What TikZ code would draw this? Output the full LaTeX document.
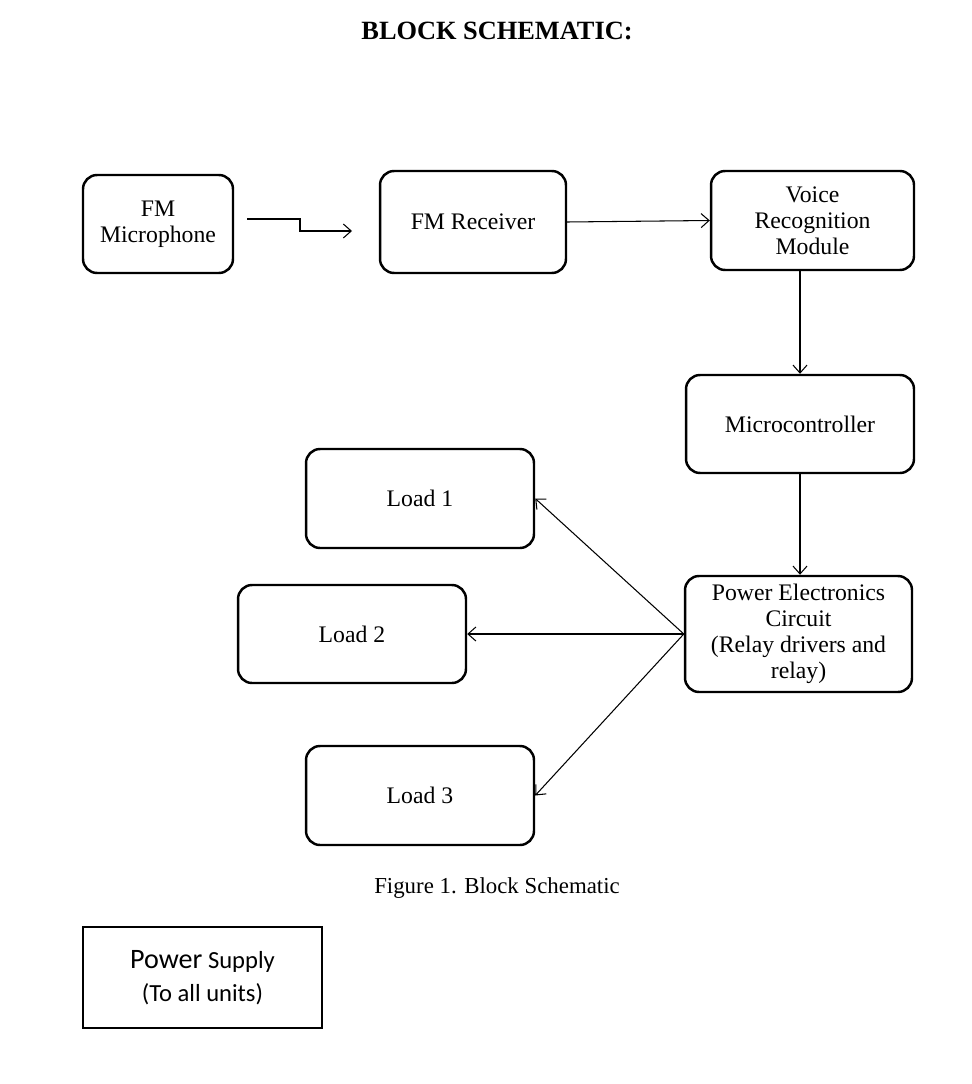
\documentclass[tikz,border=0pt]{standalone}
\usepackage{fontspec}
\setmainfont{Liberation Serif}
\newfontfamily\calfont{Carlito}
\usetikzlibrary{arrows.meta, positioning}

\begin{document}
\begin{tikzpicture}[x=0.02cm, y=-0.02cm,
    >={Straight Barb[length=4.5pt, width=8pt]},
    block/.style={draw, line width=1.4pt, rounded corners=8pt, align=center,
        font=\fontsize{13.5}{14.8}\selectfont, inner sep=2pt},
    link/.style={->, line width=0.6pt}]
            \useasboundingbox (0, 0) rectangle (972, 1084);
            \node (title) at (497, 31) {\fontsize{15}{18}\selectfont\bfseries BLOCK SCHEMATIC:};
            \node[block, minimum width=3cm, minimum height=1.96cm] (mic) at (158, 224) {FM\\Microphone};
            \node[block, minimum width=3.72cm, minimum height=2.04cm] (rx) at (473, 222) {FM Receiver};
            \node[block, minimum width=4.06cm, minimum height=1.98cm] (vr) at (812.5, 220.5) {Voice\\Recognition\\Module};
            \node[block, minimum width=4.56cm, minimum height=1.96cm] (mcu) at (800, 424) {Microcontroller};
            \node[block, minimum width=4.54cm, minimum height=2.32cm] (pe) at (798.5, 634) {Power Electronics\\Circuit\\(Relay drivers and\\relay)};
            \node[block, minimum width=4.56cm, minimum height=1.98cm] (load1) at (420, 498.5) {Load 1};
            \node[block, minimum width=4.56cm, minimum height=1.96cm] (load2) at (352, 634) {Load 2};
            \node[block, minimum width=4.56cm, minimum height=1.98cm] (load3) at (420, 795.5) {Load 3};
            \node (caption) at (497, 888) {\fontsize{13}{15}\selectfont Figure 1. Block Schematic};
            \node[draw, line width=1.2pt, minimum width=4.78cm, minimum height=2.02cm, align=center,
                font=\calfont\fontsize{14}{19}\selectfont] (psu) at (202.5, 977.5)
                {{\fontsize{16}{19}\selectfont Power} Supply\\(To all units)};
            \coordinate (tx) at (247, 219);
            \coordinate (rxin) at (352, 231);
            \draw[link] (tx) -- ++(53, 0) |- (rxin);
            \draw[link] (rx.east) -- (vr.west);
            \draw[link] (vr.south -| mcu.north) -- (mcu.north);
            \draw[link] (mcu.south) -- (mcu.south |- pe.north);
            \draw[link] (pe.west) -- (load1.east);
            \draw[link] (pe.west) -- (load2.east);
            \draw[link] (pe.west) -- (load3.east);
        \end{tikzpicture}
\end{document}
